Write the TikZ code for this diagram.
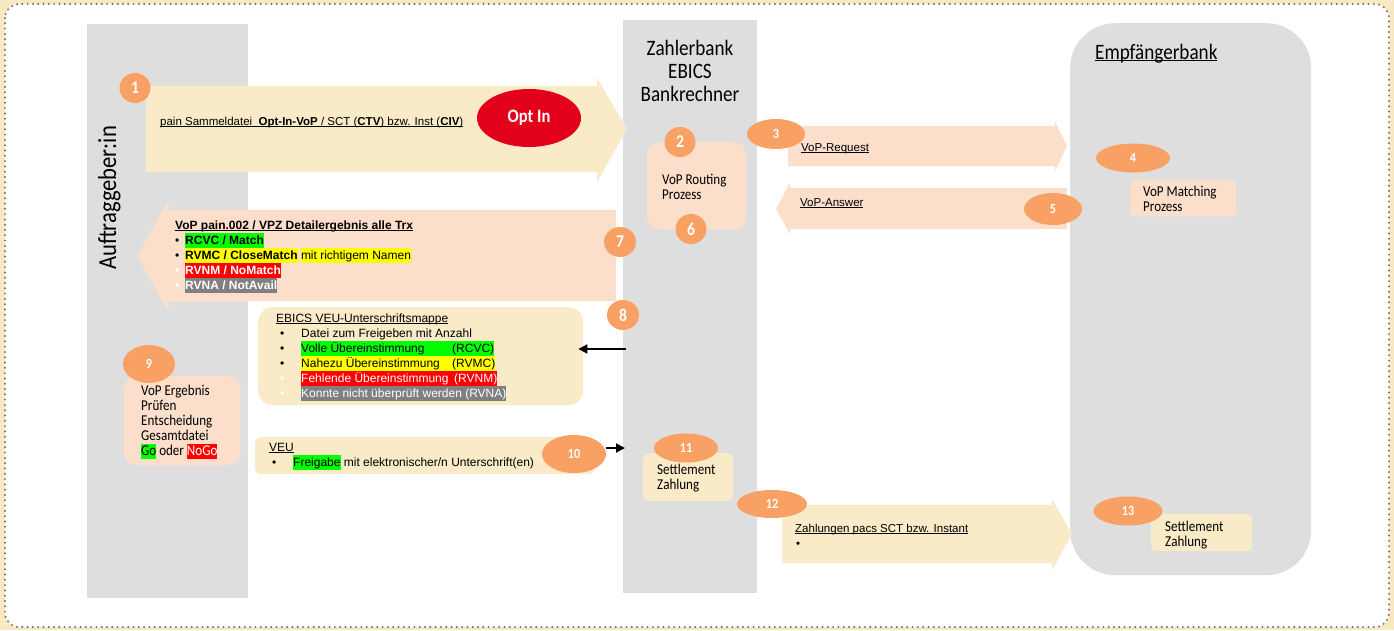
\documentclass[tikz,border=0pt]{standalone}
\usepackage{fontspec}
\setmainfont{Liberation Sans}
\newfontfamily\hum{Carlito}[FakeStretch=0.87]
\usetikzlibrary{shapes.geometric,arrows.meta}

\definecolor{lanegray}{HTML}{DEDEDE}
\definecolor{cream}{HTML}{F9EAC8}
\definecolor{peach}{HTML}{FBDFCA}
\definecolor{badgeorange}{HTML}{F9A164}
\definecolor{optred}{HTML}{E2001A}
\definecolor{hlgreen}{HTML}{00FF00}
\definecolor{hlyellow}{HTML}{FFFF00}
\definecolor{hlred}{HTML}{FF0000}
\definecolor{hlgray}{HTML}{808080}
\definecolor{framedots}{HTML}{6E6E6E}
\definecolor{framecream}{HTML}{FAE8C2}

% highlighted text run (full line height)
\newcommand\hl[2]{{\setlength\fboxsep{0pt}\colorbox{#1}{\rule[-3.6pt]{0pt}{15pt}#2}}}
% underline close to the baseline
\newcommand\ulin[1]{{\setbox0=\hbox{#1}\rlap{\rule[-1.8pt]{\wd0}{0.6pt}}\box0}}
\newcommand\firstln{\rule{0pt}{11.4pt}}

\begin{document}
\begin{tikzpicture}[x=1pt,y=-1pt,
  lane/.style={fill=lanegray, draw=none, inner sep=0, anchor=north west},
  panel/.style={draw=none, inner sep=0, anchor=north west},
  badge/.style={ellipse, fill=badgeorange, draw=none, inner sep=0, text=white},
  badgebig/.style={badge, font=\hum\bfseries\fontsize{18}{18}\selectfont},
  badgesmall/.style={badge, font=\hum\bfseries\fontsize{14}{14}\selectfont},
  body/.style={inner sep=0, anchor=north west, align=left, font=\fontsize{12}{15}\selectfont},
  humbody/.style={inner sep=0, anchor=north west, align=left, font=\hum\fontsize{15}{15}\selectfont},
  conn/.style={draw=black, line width=2pt, -{Triangle[length=9pt,width=9pt]}},
]
\useasboundingbox (0,0) rectangle (1394,630);

% outer frame
\fill[framecream] (0,0) rectangle (1394,630);
\draw[framedots, fill=white, rounded corners=14pt, line width=2.2pt, line cap=round,
      dash pattern=on 0pt off 5.3pt] (5,4) rectangle (1389,627);

% swimlanes
\node[lane, minimum width=161pt, minimum height=574pt] (laneA) at (87,24) {};
\node[lane, minimum width=134pt, minimum height=573pt] (laneB) at (623,20) {};
\node[lane, minimum width=241pt, minimum height=552pt, rounded corners=45pt] (laneC) at (1070,23) {};

\node[inner sep=0, anchor=base, rotate=90, font=\hum\fontsize{26}{26}\selectfont] (titleA) at (116,198) {Auftraggeber:in};
\node[inner sep=0, anchor=north, align=center, font=\hum\fontsize{22}{23}\selectfont] (titleB) at (690,39)
  {\rule{0pt}{16pt}Zahlerbank\\EBICS\\Bankrechner};
\node[inner sep=0, anchor=base west, font=\hum\fontsize{22}{22}\selectfont] (titleC) at (1095,59)
  {{\setbox0=\hbox{Empfängerbank}\rlap{\rule[-2.4pt]{\wd0}{1pt}}\box0}};

% message arrows
\fill[cream] (146,86) -- (597,86) -- (597,78) -- (627,129) -- (597,182) -- (597,172) -- (146,172) -- cycle;
\fill[peach] (788,126) -- (1055,126) -- (1055,122) -- (1067,146) -- (1055,171) -- (1055,166) -- (788,166) -- cycle;
\fill[peach] (1067,188) -- (790,188) -- (790,183) -- (776,209) -- (790,234) -- (790,229) -- (1067,229) -- cycle;
\fill[peach] (616,210) -- (168,210) -- (168,200) -- (138,256) -- (168,312) -- (168,301) -- (616,301) -- cycle;
\fill[cream] (782,505) -- (1052,505) -- (1052,499) -- (1072,534) -- (1052,570) -- (1052,563) -- (782,563) -- cycle;

% process boxes
\node[panel, fill=peach, rounded corners=12pt, minimum width=99pt, minimum height=87pt] (box2) at (647,142) {};
\node[panel, fill=peach, rounded corners=5pt, minimum width=106pt, minimum height=36pt] (box4) at (1130,180) {};
\node[panel, fill=cream, rounded corners=15pt, minimum width=325pt, minimum height=98pt] (box8) at (258,307) {};
\node[panel, fill=peach, rounded corners=12pt, minimum width=116pt, minimum height=89pt] (box9) at (124,376) {};
\node[panel, fill=cream, rounded corners=6pt, minimum width=339pt, minimum height=37pt] (box10) at (255,437) {};
\node[panel, fill=cream, rounded corners=6pt, minimum width=90pt, minimum height=48pt] (box11) at (643,453) {};
\node[panel, fill=cream, rounded corners=5pt, minimum width=101pt, minimum height=37pt] (box13) at (1151,514) {};

% texts
\node[inner sep=0, anchor=base west, font=\fontsize{11.5}{14}\selectfont] (msg1) at (160,125)
  {\ulin{pain Sammeldatei\ \ \textbf{Opt-In-VoP} / SCT (\textbf{CTV}) bzw. Inst (\textbf{CIV})}};
\node[ellipse, fill=optred, minimum width=104pt, minimum height=58pt, inner sep=0, text=white,
      font=\hum\bfseries\fontsize{19}{19}\selectfont] (optin) at (529,118) {Opt In};

\node[humbody] (txt2) at (662,172.6) {\firstln VoP Routing\\Prozess};
\node[humbody] (txt4) at (1143,184.6) {\firstln VoP Matching\\Prozess};
\node[humbody] (txt11) at (657,462.6) {\firstln Settlement\\Zahlung};
\node[humbody] (txt13) at (1165,519.6) {\firstln Settlement\\Zahlung};

\node[inner sep=0, anchor=base west, font=\fontsize{11.5}{14}\selectfont] (msg3) at (801,151) {\ulin{VoP-Request}};
\node[inner sep=0, anchor=base west, font=\fontsize{11.5}{14}\selectfont] (msg5) at (800,206) {\ulin{VoP-Answer}};

\node[body] (msg7) at (175,217.6) {%
  \firstln\ulin{\textbf{VoP pain.002 / VPZ Detailergebnis alle Trx}}\\
  \makebox[10pt][l]{•}\hl{hlgreen}{\textbf{RCVC / Match}}\\
  \makebox[10pt][l]{•}\hl{hlyellow}{\textbf{RVMC / CloseMatch}} \hl{hlyellow}{mit richtigem Namen}\\
  {\color{white}\makebox[10pt][l]{•}\hl{hlred}{\textbf{RVNM / NoMatch}}}\\
  {\color{white}\makebox[10pt][l]{•}\hl{hlgray}{\textbf{RVNA / NotAvail}}}};

\node[body] (txt8) at (276,310.6) {%
  \firstln\ulin{EBICS VEU-Unterschriftsmappe}\\
  \hspace*{4pt}\makebox[21pt][l]{•}Datei zum Freigeben mit Anzahl\\
  \hspace*{4pt}\makebox[21pt][l]{•}\hl{hlgreen}{\makebox[151pt][l]{Volle Übereinstimmung}(RCVC)}\\
  \hspace*{4pt}\makebox[21pt][l]{•}\hl{hlyellow}{\makebox[151pt][l]{Nahezu Übereinstimmung}(RVMC)}\\
  \hspace*{4pt}{\color{white}\makebox[21pt][l]{•}\hl{hlred}{\makebox[153pt][l]{Fehlende Übereinstimmung}(RVNM)}}\\
  \hspace*{4pt}{\color{white}\makebox[21pt][l]{•}\hl{hlgray}{Konnte nicht überprüft werden (RVNA)}}};

\node[humbody] (txt9) at (141,383.6) {%
  \firstln VoP Ergebnis\\Prüfen\\Entscheidung\\Gesamtdatei\\
  \hl{hlgreen}{Go} oder {\color{white}\hl{hlred}{NoGo}}};

\node[body] (txt10) at (269,439.6) {%
  \firstln\ulin{VEU}\\
  \hspace*{3pt}\makebox[21pt][l]{•}\hl{hlgreen}{Freigabe} mit elektronischer/n Unterschrift(en)};

\node[body, font=\fontsize{11.5}{15}\selectfont] (msg12) at (795,520.6) {%
  \firstln\ulin{Zahlungen pacs SCT bzw. Instant}\\
  \hspace*{1pt}•};

% step badges
\node[badgebig, minimum width=31pt, minimum height=30pt] (n1) at (135,88) {1};
\node[badgebig, minimum width=31pt, minimum height=30pt] (n2) at (680,142) {2};
\node[badgesmall, minimum width=58pt, minimum height=30pt] (n3) at (776,134) {3};
\node[badgesmall, minimum width=74pt, minimum height=29pt] (n4) at (1133,158) {4};
\node[badgesmall, minimum width=58pt, minimum height=32pt] (n5) at (1053,209) {5};
\node[badgebig, minimum width=31pt, minimum height=30pt] (n6) at (691,229) {6};
\node[badgebig, minimum width=32pt, minimum height=30pt] (n7) at (620,242) {7};
\node[badgebig, minimum width=32pt, minimum height=30pt] (n8) at (623,315) {8};
\node[badgesmall, minimum width=52pt, minimum height=38pt] (n9) at (149,364) {9};
\node[badgesmall, minimum width=64pt, minimum height=38pt] (n10) at (574,454) {10};
\node[badgesmall, minimum width=64pt, minimum height=29pt] (n11) at (686,448) {11};
\node[badgesmall, minimum width=70pt, minimum height=28pt] (n12) at (772,504) {12};
\node[badgesmall, minimum width=69pt, minimum height=29pt] (n13) at (1128,511) {13};

% connectors
\coordinate (c8) at (626,349);
\draw[conn, shorten >=-5pt] (c8) -- (box8.east |- c8);
\coordinate (c10) at (606,448);
\draw[conn, shorten >=-2pt] (n10.east |- c10) -- (laneB.west |- c10);
\end{tikzpicture}
\end{document}
